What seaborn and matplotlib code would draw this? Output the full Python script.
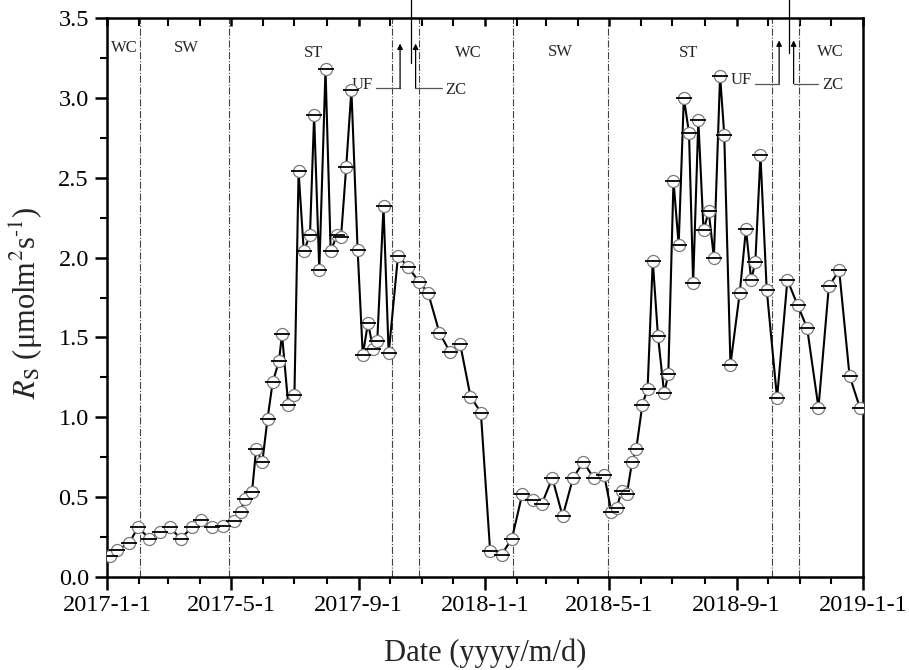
import numpy as np
import pandas as pd
import matplotlib
matplotlib.use("Agg")
import matplotlib.pyplot as plt
import matplotlib.dates as mdates
from matplotlib.ticker import MultipleLocator, FuncFormatter
import seaborn as sns

# ---- data ----
dates = [
    "2017-01-04", "2017-01-11", "2017-01-22", "2017-01-31", "2017-02-11", "2017-02-21",
    "2017-03-03", "2017-03-13", "2017-03-24", "2017-04-02", "2017-04-12", "2017-04-23",
    "2017-05-04", "2017-05-10", "2017-05-14", "2017-05-21", "2017-05-25", "2017-05-31",
    "2017-06-05", "2017-06-10", "2017-06-16", "2017-06-19", "2017-06-25", "2017-07-01",
    "2017-07-05", "2017-07-10", "2017-07-16", "2017-07-20", "2017-07-25", "2017-07-31",
    "2017-08-05", "2017-08-11", "2017-08-15", "2017-08-20", "2017-08-25", "2017-08-31",
    "2017-09-05", "2017-09-10", "2017-09-15", "2017-09-19", "2017-09-25", "2017-09-30",
    "2017-10-09", "2017-10-19", "2017-10-29", "2017-11-07", "2017-11-18", "2017-11-28",
    "2017-12-08", "2017-12-18", "2017-12-28", "2018-01-06", "2018-01-17", "2018-01-27",
    "2018-02-06", "2018-02-16", "2018-02-25", "2018-03-07", "2018-03-17", "2018-03-27",
    "2018-04-06", "2018-04-16", "2018-04-26", "2018-05-03", "2018-05-08", "2018-05-13",
    "2018-05-18", "2018-05-23", "2018-05-27", "2018-06-02", "2018-06-07", "2018-06-12",
    "2018-06-17", "2018-06-23", "2018-06-27", "2018-07-02", "2018-07-07", "2018-07-12",
    "2018-07-17", "2018-07-21", "2018-07-26", "2018-07-31", "2018-08-05", "2018-08-10",
    "2018-08-16", "2018-08-20", "2018-08-26", "2018-09-04", "2018-09-10", "2018-09-15",
    "2018-09-19", "2018-09-24", "2018-09-30", "2018-10-10", "2018-10-20", "2018-10-30",
    "2018-11-08", "2018-11-19", "2018-11-29", "2018-12-09", "2018-12-19", "2018-12-29",
]
rs = [
    0.13, 0.17, 0.21, 0.31, 0.24, 0.28,
    0.31, 0.24, 0.31, 0.36, 0.31, 0.32,
    0.35, 0.41, 0.49, 0.53, 0.80, 0.72,
    0.99, 1.22, 1.35, 1.52, 1.08, 1.14,
    2.54, 2.04, 2.14, 2.89, 1.92, 3.18,
    2.04, 2.14, 2.13, 2.57, 3.05, 2.05,
    1.39, 1.59, 1.43, 1.48, 2.32, 1.40,
    2.01, 1.94, 1.85, 1.78, 1.53, 1.41,
    1.46, 1.13, 1.03, 0.16, 0.14, 0.24,
    0.52, 0.48, 0.46, 0.62, 0.38, 0.62,
    0.72, 0.62, 0.64, 0.41, 0.43, 0.54,
    0.52, 0.72, 0.80, 1.08, 1.18, 1.98,
    1.51, 1.15, 1.27, 2.48, 2.08, 3.00,
    2.78, 1.84, 2.86, 2.17, 2.29, 2.00,
    3.14, 2.77, 1.33, 1.78, 2.18, 1.86,
    1.97, 2.64, 1.80, 1.12, 1.86, 1.70,
    1.56, 1.06, 1.82, 1.92, 1.26, 1.06,
]
period_lines = ["2017-02-02", "2017-04-29", "2017-10-03", "2017-10-29",
                "2018-01-28", "2018-04-30", "2018-10-05", "2018-10-31"]
period_labels = ["WC", "SW", "ST", "WC", "SW", "ST", "WC"]
period_label_dates = ["2017-01-18", "2017-03-19", "2017-07-19", "2017-12-16",
                      "2018-03-15", "2018-07-17", "2018-11-30"]
period_label_y = [3.31, 3.31, 3.28, 3.28, 3.29, 3.28, 3.29]

df = pd.DataFrame({"date": pd.to_datetime(dates), "Rs": rs})

# ---- style ----
sns.set_theme(style="ticks")
plt.rcParams["font.family"] = ["Liberation Serif", "DejaVu Serif"]
plt.rcParams["mathtext.fontset"] = "stix"

fig = plt.figure(figsize=(9.09, 6.70), dpi=100)
ax = fig.add_axes([0.1177, 0.1388, 0.9494 - 0.1177, 0.9731 - 0.1388])

sns.lineplot(data=df, x="date", y="Rs", ax=ax, color="black", lw=1.5, zorder=3)
sns.scatterplot(data=df, x="date", y="Rs", ax=ax, marker="o", s=75,
                facecolor="white", edgecolor="#7a7a7a", linewidth=0.9,
                zorder=4, legend=False)
sns.scatterplot(data=df, x="date", y="Rs", ax=ax, marker="_", s=120,
                color="black", linewidth=1.3, zorder=5, legend=False)

for d in period_lines:
    ax.axvline(pd.Timestamp(d), color="#444444", lw=0.8, ls="-.", zorder=1)

for lab, d, yv in zip(period_labels, period_label_dates, period_label_y):
    ax.text(pd.Timestamp(d), yv, lab, ha="center", va="center", fontsize=12)

# UF / ZC annotations
def elbow_arrow(x_text, x_vert, y_h, y_top, label, side):
    xt = pd.Timestamp(x_text)
    xv = pd.Timestamp(x_vert)
    ax.plot([xt, xv], [y_h, y_h], color="#555555", lw=0.9, clip_on=False)
    ax.annotate("", xy=(xv, y_top), xytext=(xv, y_h),
                arrowprops=dict(arrowstyle="-|>", color="black", lw=0.9,
                                mutation_scale=8, shrinkA=0, shrinkB=0))
    if side == "left":
        ax.text(xt - pd.Timedelta(days=3), y_h + 0.02, label, ha="right",
                va="center", fontsize=12)
    else:
        ax.text(xt + pd.Timedelta(days=4), y_h - 0.01, label, ha="left",
                va="center", fontsize=12)

elbow_arrow("2017-09-18", "2017-10-11", 3.06, 3.34, "UF", "left")
elbow_arrow("2017-11-20", "2017-10-26", 3.06, 3.34, "ZC", "right")
elbow_arrow("2018-09-19", "2018-10-12", 3.09, 3.36, "UF", "left")
elbow_arrow("2018-11-19", "2018-10-26", 3.09, 3.36, "ZC", "right")

# thin vertical lines protruding above top spine
for d, y0 in [("2017-10-22", 3.22), ("2018-10-22", 3.28)]:
    ax.plot([pd.Timestamp(d), pd.Timestamp(d)], [y0, 3.62], color="black",
            lw=0.9, clip_on=False)

# ---- axes ----
ax.set_xlim(pd.Timestamp("2017-01-01"), pd.Timestamp("2019-01-01"))
ax.set_ylim(0, 3.5)
ax.xaxis.set_major_locator(mdates.MonthLocator(bymonth=[1, 5, 9], bymonthday=1))
ax.xaxis.set_minor_locator(mdates.MonthLocator(bymonthday=1))
ax.xaxis.set_major_formatter(FuncFormatter(
    lambda v, p: (lambda d: f"{d.year}-{d.month}-{d.day}")(mdates.num2date(v))))
ax.yaxis.set_major_locator(MultipleLocator(0.5))
ax.yaxis.set_minor_locator(MultipleLocator(0.25))
ax.yaxis.set_major_formatter(FuncFormatter(lambda v, p: f"{v:.1f}"))

for s in ax.spines.values():
    s.set_linewidth(1.8)
    s.set_color("black")

ax.tick_params(axis="both", which="major", direction="out", length=9, width=1.8,
               labelsize=17.5, color="black", labelcolor="black", pad=4)
ax.tick_params(axis="both", which="minor", direction="out", length=5, width=1.5,
               color="black")
ax.tick_params(axis="x", which="both", top=True, labeltop=False)

ax.set_xlabel("Date (yyyy/m/d)", fontsize=22, labelpad=16)
ax.set_ylabel(r"$R_{\mathrm{S}}$ (μmolm$^{2}$s$^{\text{-}1}$)", fontsize=22, labelpad=4)
ax.yaxis.set_label_coords(-0.082, 0.49)
ax.grid(False)

# top ticks point inward
for t in ax.xaxis.get_major_ticks() + ax.xaxis.get_minor_ticks():
    t.tick2line.set_marker(matplotlib.lines.TICKDOWN)
    t.tick2line.set_markersize(6)

fig.savefig("out.png", dpi=100, facecolor="white")
